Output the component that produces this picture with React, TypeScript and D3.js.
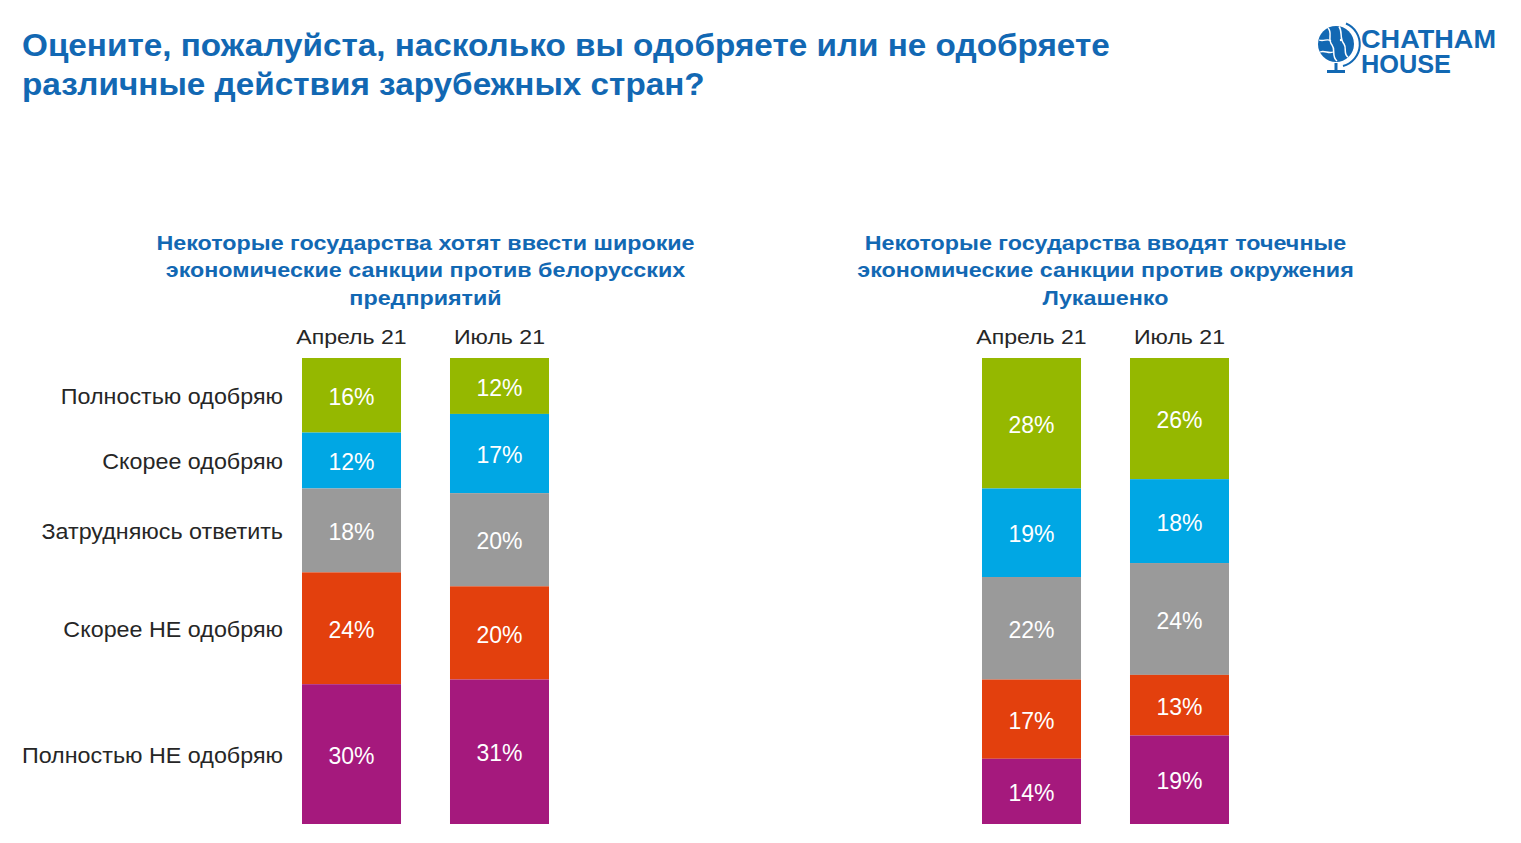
import React, { useEffect } from "react";
import * as d3 from "d3";

const titleLines = [
  "Оцените, пожалуйста, насколько вы одобряете или не одобряете",
  "различные действия зарубежных стран?",
];
const categories = [
  "Полностью одобряю",
  "Скорее одобряю",
  "Затрудняюсь ответить",
  "Скорее НЕ одобряю",
  "Полностью НЕ одобряю",
];
const periods = ["Апрель 21", "Июль 21"];
const broadTitle = [
  "Некоторые государства хотят ввести широкие",
  "экономические санкции против белорусских",
  "предприятий",
];
const targetedTitle = [
  "Некоторые государства вводят точечные",
  "экономические санкции против окружения",
  "Лукашенко",
];
const broadApril = [16, 12, 18, 24, 30];
const broadJuly = [12, 17, 20, 20, 31];
const targetedApril = [28, 19, 22, 17, 14];
const targetedJuly = [26, 18, 24, 13, 19];
const colors = ["#95B800", "#00A7E4", "#9A9A9A", "#E3400D", "#A5197D"];

const W = 1521;
const H = 843;
const FONT = "'Liberation Sans', Arial, sans-serif";
const BLUE = "#1268B3";

type Panel = { title: string[]; series: number[][]; range: [number, number] };

const panels: Panel[] = [
  { title: broadTitle, series: [broadApril, broadJuly], range: [302, 549] },
  { title: targetedTitle, series: [targetedApril, targetedJuly], range: [982, 1229] },
];

const y = d3.scaleLinear().domain([0, 100]).range([358, 824]);

function segs(values: number[]) {
  const ends = d3.cumsum(values);
  return values.map((v, i) => ({ v, i, y0: ends[i] - v, y1: ends[i] }));
}

function T(props: {
  x: number;
  y: number;
  sx?: number;
  size: number;
  anchor?: "start" | "middle" | "end";
  bold?: boolean;
  fill: string;
  dy?: string;
  children: React.ReactNode;
}) {
  const { x, y, sx = 1, size, anchor = "start", bold, fill, dy, children } = props;
  return (
    <text
      transform={`translate(${x},${y}) scale(${sx},1)`}
      dy={dy}
      fontSize={size}
      fontWeight={bold ? "bold" : "normal"}
      textAnchor={anchor}
      fill={fill}
    >
      {children}
    </text>
  );
}

export default function App() {
  useEffect(() => {
    document.body.style.margin = "0";
  }, []);

  return (
    <svg width={W} height={H} style={{ display: "block", background: "#fff" }} fontFamily={FONT}>
      <T x={22} y={55.5} size={31} sx={1.074} bold fill={BLUE}>{titleLines[0]}</T>
      <T x={22} y={94.5} size={31} sx={1.074} bold fill={BLUE}>{titleLines[1]}</T>

      {/* logo */}
      <g>
        <circle cx={1336} cy={44} r={18} fill={BLUE} />
        <path d="M1328,28 C1333,33 1327,39 1332,45 C1336,50 1331,56 1337,61" fill="none" stroke="#fff" strokeWidth={1.5} />
        <path d="M1339,26.5 C1343,32 1339,38 1344,44 C1347,48 1343,54 1348,57" fill="none" stroke="#fff" strokeWidth={1.5} />
        <path d="M1319,40 C1324,42 1327,38 1331,41" fill="none" stroke="#fff" strokeWidth={1.3} />
        <path d="M1320,52 C1325,50 1328,54 1333,52" fill="none" stroke="#fff" strokeWidth={1.3} />
        <circle cx={1341} cy={40} r={1.2} fill="#fff" />
        <path d="M1346,23.5 A22.5,22.5 0 0 1 1343,66" fill="none" stroke={BLUE} strokeWidth={2} />
        <rect x={1334.5} y={63} width={3} height={8} fill={BLUE} />
        <rect x={1327} y={70} width={18} height={3} fill={BLUE} />
        <text fontSize={25.5} fontWeight="bold" fill={BLUE}>
          <tspan x={1361} y={47.5} textLength={135} lengthAdjust="spacingAndGlyphs">CHATHAM</tspan>
          <tspan x={1361} y={72.5} textLength={90} lengthAdjust="spacingAndGlyphs">HOUSE</tspan>
        </text>
      </g>

      {/* row labels, aligned to the first bar of the first panel */}
      {segs(broadApril).map((s) => (
        <T
          key={s.i}
          x={283}
          y={(y(s.y0) + y(s.y1)) / 2 + 1}
          dy="0.36em"
          anchor="end"
          size={22}
          sx={1.06}
          fill="#262626"
        >
          {categories[s.i]}
        </T>
      ))}

      {panels.map((p, pi) => {
        const x = d3.scaleBand<string>().domain(periods).range(p.range).paddingInner(0.331).paddingOuter(0);
        const cx = (p.range[0] + p.range[1]) / 2;
        return (
          <g key={pi}>
            {p.title.map((t, i) => (
              <T key={i} x={cx} y={249.5 + i * 27.5} anchor="middle" size={20} sx={1.165} bold fill={BLUE}>
                {t}
              </T>
            ))}
            {periods.map((per, bi) => (
              <g key={per}>
                <T x={x(per)! + x.bandwidth() / 2} y={344} anchor="middle" size={21} sx={1.1} fill="#262626">
                  {per}
                </T>
                {segs(p.series[bi]).map((s) => (
                  <g key={s.i}>
                    <rect
                      x={x(per)!}
                      y={y(s.y0)}
                      width={x.bandwidth()}
                      height={y(s.y1) - y(s.y0)}
                      fill={colors[s.i]}
                    />
                    <T
                      x={x(per)! + x.bandwidth() / 2}
                      y={(y(s.y0) + y(s.y1)) / 2 + 1.5}
                      dy="0.35em"
                      anchor="middle"
                      size={23}
                      fill="#fff"
                    >
                      {s.v}%
                    </T>
                  </g>
                ))}
              </g>
            ))}
          </g>
        );
      })}
    </svg>
  );
}
